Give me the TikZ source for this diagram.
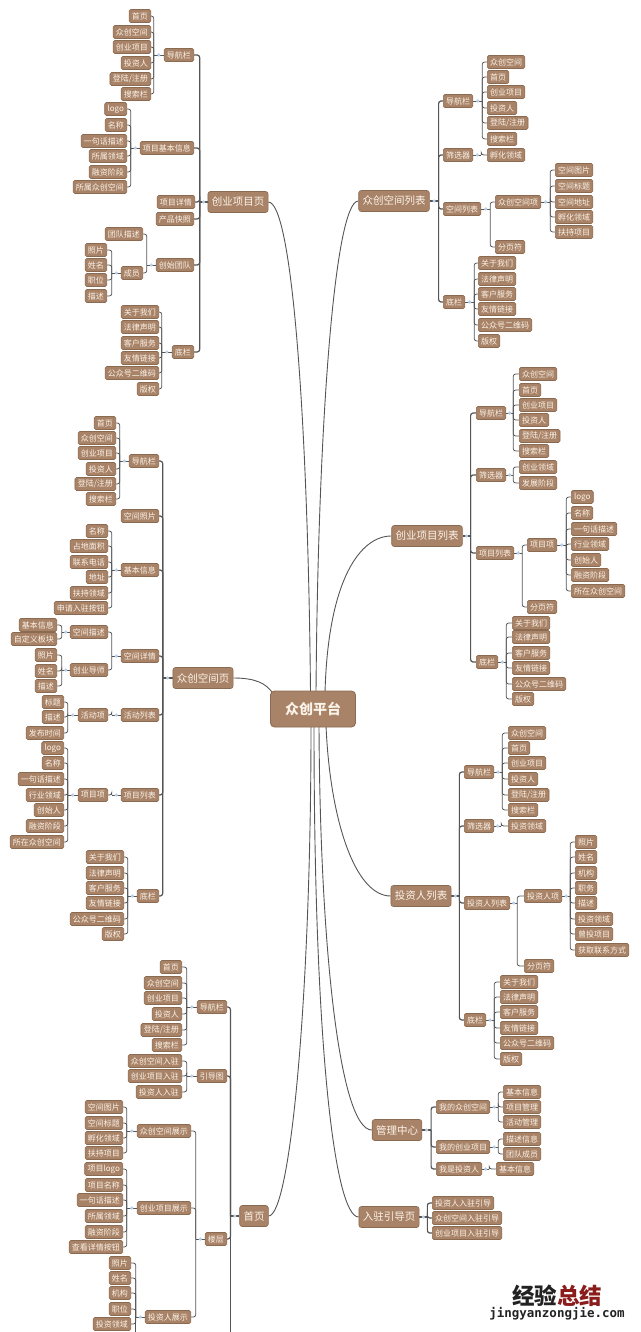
\documentclass[tikz,border=0pt]{standalone}
\usepackage{fontspec}
\newfontfamily\cjk{Noto Sans CJK SC}
\newfontfamily\wmmono{DejaVu Sans Mono}
\usetikzlibrary{calc,backgrounds}
\definecolor{boxf}{HTML}{A98367}
\definecolor{boxb}{HTML}{8A6A50}
\definecolor{boxt}{HTML}{FBF3EA}
\definecolor{linec}{HTML}{555555}
\definecolor{dotcol}{HTML}{BCD0E8}
\definecolor{wmred}{HTML}{8B1C1C}
\definecolor{wmblack}{HTML}{222222}
\tikzset{
  box/.style={draw=boxb,fill=boxf,text=boxt,line width=0.6pt,rounded corners=1.6pt,
    font=\cjk\fontsize{8}{9}\selectfont,inner xsep=2.8pt,inner ysep=0pt,minimum height=13pt},
  pagebox/.style={box,font=\cjk\fontsize{10.5}{12}\selectfont,inner xsep=3.8pt,minimum height=21pt,rounded corners=2.5pt},
  rootbox/.style={box,font=\cjk\bfseries\fontsize{14}{16}\selectfont,inner xsep=14pt,minimum height=36pt,
    minimum width=85pt,rounded corners=4pt,line width=0.8pt},
  conn/.style={draw=linec,line width=0.8pt},
  mainconn/.style={line width=1.2pt},
  rootconn/.style={draw=linec,line width=0.9pt},
  dotc/.style={fill=dotcol}
}
\newcommand\leafL[4]{\node[box,anchor=east] (#1) at (#2,#3) {#4};}
\newcommand\leafR[4]{\node[box,anchor=west] (#1) at (#2,#3) {#4};}
\newcommand\brR[4][]{%
  \draw[conn,#1] (#2.east) -- ++(#3,0) coordinate (#2-j);
  \foreach \kid in {#4}{\draw[conn,#1,rounded corners=2.5pt] (#2-j) |- (\kid.west);}
  \fill[dotc] ($(#2.east)!0.5!(#2-j)$) circle (1.8pt);
}
\newcommand\brL[4][]{%
  \draw[conn,#1] (#2.west) -- ++(-#3,0) coordinate (#2-j);
  \foreach \kid in {#4}{\draw[conn,#1,rounded corners=2.5pt] (#2-j) |- (\kid.east);}
  \fill[dotc] ($(#2.west)!0.5!(#2-j)$) circle (1.8pt);
}
\begin{document}
\begin{tikzpicture}[x=1pt,y=-1pt]
\useasboundingbox (0,0) rectangle (640,1332);
\clip (0,0) rectangle (640,1332);

% root
\node[rootbox] (root) at (313,709) {众创平台};

% ===== A: 创业项目页 =====
\node[pagebox] (A) at (238,202) {创业项目页};
\leafL{An}{194}{55}{导航栏}
\leafL{Ab}{194}{148}{项目基本信息}
\leafL{Ad}{195}{202}{项目详情}
\leafL{Ap}{194}{219}{产品快照}
\leafL{At}{194}{265}{创始团队}
\leafL{Af}{194}{352}{底栏}
\leafL{An1}{151}{16}{首页}
\leafL{An2}{151}{32}{众创空间}
\leafL{An3}{151}{47}{创业项目}
\leafL{An4}{151}{63}{投资人}
\leafL{An5}{151}{79}{登陆/注册}
\leafL{An6}{151}{94}{搜索栏}
\leafL{Ab1}{127}{109}{logo}
\leafL{Ab2}{127}{125}{名称}
\leafL{Ab3}{127}{141}{一句话描述}
\leafL{Ab4}{127}{156}{所属领域}
\leafL{Ab5}{127}{172}{融资阶段}
\leafL{Ab6}{127}{187}{所属众创空间}
\leafL{At1}{143}{234}{团队描述}
\leafL{At2}{143}{273}{成员}
\leafL{Am1}{107}{250}{照片}
\leafL{Am2}{107}{265}{姓名}
\leafL{Am3}{107}{280}{职位}
\leafL{Am4}{107}{296}{描述}
\leafL{Af1}{159}{312}{关于我们}
\leafL{Af2}{159}{327}{法律声明}
\leafL{Af3}{159}{343}{客户服务}
\leafL{Af4}{159}{358}{友情链接}
\leafL{Af5}{159}{373}{公众号二维码}
\leafL{Af6}{159}{389}{版权}

% ===== B: 众创空间列表 =====
\node[pagebox] (B) at (394,201) {众创空间列表};
\leafR{Bn}{443}{101}{导航栏}
\leafR{Bs}{443}{155}{筛选器}
\leafR{Bl}{443}{209}{空间列表}
\leafR{Bf}{443}{302}{底栏}
\leafR{Bn1}{487}{62}{众创空间}
\leafR{Bn2}{487}{77}{首页}
\leafR{Bn3}{487}{92}{创业项目}
\leafR{Bn4}{487}{108}{投资人}
\leafR{Bn5}{487}{123}{登陆/注册}
\leafR{Bn6}{487}{139}{搜索栏}
\leafR{Bs1}{487}{155}{孵化领域}
\leafR{Bi}{495}{202}{众创空间项}
\leafR{Bp}{495}{247}{分页符}
\leafR{Bi1}{555}{170}{空间图片}
\leafR{Bi2}{555}{186}{空间标题}
\leafR{Bi3}{555}{202}{空间地址}
\leafR{Bi4}{555}{217}{孵化领域}
\leafR{Bi5}{555}{232}{扶持项目}
\leafR{Bf1}{478}{263}{关于我们}
\leafR{Bf2}{478}{279}{法律声明}
\leafR{Bf3}{478}{294}{客户服务}
\leafR{Bf4}{478}{309}{友情链接}
\leafR{Bf5}{478}{325}{公众号二维码}
\leafR{Bf6}{478}{341}{版权}

% ===== C: 创业项目列表 =====
\node[pagebox] (C) at (427,536) {创业项目列表};
\leafR{Cn}{476}{413}{导航栏}
\leafR{Cs}{476}{475}{筛选器}
\leafR{Cl}{476}{553}{项目列表}
\leafR{Cf}{476}{662}{底栏}
\leafR{Cn1}{519}{374}{众创空间}
\leafR{Cn2}{519}{390}{首页}
\leafR{Cn3}{519}{405}{创业项目}
\leafR{Cn4}{519}{420}{投资人}
\leafR{Cn5}{519}{436}{登陆/注册}
\leafR{Cn6}{519}{451}{搜索栏}
\leafR{Cs1}{519}{467}{创业领域}
\leafR{Cs2}{519}{483}{发展阶段}
\leafR{Ci}{527}{545}{项目项}
\leafR{Cp}{527}{607}{分页符}
\leafR{Ci1}{571}{497}{logo}
\leafR{Ci2}{571}{513}{名称}
\leafR{Ci3}{571}{529}{一句话描述}
\leafR{Ci4}{571}{544}{行业领域}
\leafR{Ci5}{571}{560}{创始人}
\leafR{Ci6}{571}{575}{融资阶段}
\leafR{Ci7}{571}{591}{所在众创空间}
\leafR{Cf1}{512}{623}{关于我们}
\leafR{Cf2}{512}{637}{法律声明}
\leafR{Cf3}{512}{653}{客户服务}
\leafR{Cf4}{512}{668}{友情链接}
\leafR{Cf5}{512}{684}{公众号二维码}
\leafR{Cf6}{512}{699}{版权}

% ===== D: 众创空间页 =====
\node[pagebox] (D) at (203,678) {众创空间页};
\leafL{Dn}{159}{461}{导航栏}
\leafL{Dz}{159}{516}{空间照片}
\leafL{Db}{159}{570}{基本信息}
\leafL{Dd}{159}{656}{空间详情}
\leafL{Da}{159}{715}{活动列表}
\leafL{Dp}{159}{795}{项目列表}
\leafL{Df}{159}{896}{底栏}
\leafL{Dn1}{116}{423}{首页}
\leafL{Dn2}{116}{438}{众创空间}
\leafL{Dn3}{116}{453}{创业项目}
\leafL{Dn4}{116}{469}{投资人}
\leafL{Dn5}{116}{484}{登陆/注册}
\leafL{Dn6}{116}{499}{搜索栏}
\leafL{Db1}{108}{531}{名称}
\leafL{Db2}{108}{546}{占地面积}
\leafL{Db3}{108}{562}{联系电话}
\leafL{Db4}{108}{577}{地址}
\leafL{Db5}{108}{593}{扶持领域}
\leafL{Db6}{108}{608}{申请入驻按钮}
\leafL{Dm}{108}{632}{空间描述}
\leafL{Dt}{108}{670}{创业导师}
\leafL{Dm1}{57}{625}{基本信息}
\leafL{Dm2}{57}{639}{自定义板块}
\leafL{Dt1}{57}{655}{照片}
\leafL{Dt2}{57}{671}{姓名}
\leafL{Dt3}{57}{686}{描述}
\leafL{Dai}{108}{715}{活动项}
\leafL{Da1}{64}{702}{标题}
\leafL{Da2}{64}{717}{描述}
\leafL{Da3}{64}{733}{发布时间}
\leafL{Dpi}{108}{795}{项目项}
\leafL{Dp1}{64}{748}{logo}
\leafL{Dp2}{64}{763}{名称}
\leafL{Dp3}{64}{779}{一句话描述}
\leafL{Dp4}{64}{795}{行业领域}
\leafL{Dp5}{64}{810}{创始人}
\leafL{Dp6}{64}{826}{融资阶段}
\leafL{Dp7}{64}{842}{所在众创空间}
\leafL{Df1}{124}{857}{关于我们}
\leafL{Df2}{124}{873}{法律声明}
\leafL{Df3}{124}{888}{客户服务}
\leafL{Df4}{124}{903}{友情链接}
\leafL{Df5}{124}{919}{公众号二维码}
\leafL{Df6}{124}{934}{版权}

% ===== E: 投资人列表 =====
\node[pagebox] (E) at (421,896) {投资人列表};
\leafR{En}{464}{772}{导航栏}
\leafR{Es}{464}{826}{筛选器}
\leafR{El}{464}{903}{投资人列表}
\leafR{Ef}{464}{1020}{底栏}
\leafR{En1}{508}{733}{众创空间}
\leafR{En2}{508}{748}{首页}
\leafR{En3}{508}{763}{创业项目}
\leafR{En4}{508}{779}{投资人}
\leafR{En5}{508}{795}{登陆/注册}
\leafR{En6}{508}{810}{搜索栏}
\leafR{Es1}{508}{826}{投资领域}
\leafR{Ei}{524}{896}{投资人项}
\leafR{Ep}{524}{966}{分页符}
\leafR{Ei1}{575}{842}{照片}
\leafR{Ei2}{575}{857}{姓名}
\leafR{Ei3}{575}{873}{机构}
\leafR{Ei4}{575}{888}{职务}
\leafR{Ei5}{575}{903}{描述}
\leafR{Ei6}{575}{919}{投资领域}
\leafR{Ei7}{575}{934}{曾投项目}
\leafR{Ei8}{575}{950}{获取联系方式}
\leafR{Ef1}{500}{982}{关于我们}
\leafR{Ef2}{500}{997}{法律声明}
\leafR{Ef3}{500}{1012}{客户服务}
\leafR{Ef4}{500}{1028}{友情链接}
\leafR{Ef5}{500}{1043}{公众号二维码}
\leafR{Ef6}{500}{1059}{版权}

% ===== F: 首页 =====
\node[pagebox] (F) at (254,1216) {首页};
\leafL{Fn}{227}{1007}{导航栏}
\leafL{Fg}{227}{1076}{引导图}
\leafL{Fl}{227}{1239}{楼层}
\leafL{Fn1}{182}{967}{首页}
\leafL{Fn2}{182}{983}{众创空间}
\leafL{Fn3}{182}{998}{创业项目}
\leafL{Fn4}{182}{1014}{投资人}
\leafL{Fn5}{182}{1030}{登陆/注册}
\leafL{Fn6}{182}{1045}{搜索栏}
\leafL{Fg1}{182}{1061}{众创空间入驻}
\leafL{Fg2}{182}{1076}{创业项目入驻}
\leafL{Fg3}{182}{1092}{投资人入驻}
\leafL{Fz}{191}{1131}{众创空间展示}
\leafL{Fc}{191}{1208}{创业项目展示}
\leafL{Fi}{191}{1317}{投资人展示}
\leafL{Fz1}{123}{1107}{空间图片}
\leafL{Fz2}{123}{1123}{空间标题}
\leafL{Fz3}{123}{1138}{孵化领域}
\leafL{Fz4}{123}{1153}{扶持项目}
\leafL{Fc1}{123}{1169}{项目logo}
\leafL{Fc2}{123}{1185}{项目名称}
\leafL{Fc3}{123}{1200}{一句话描述}
\leafL{Fc4}{123}{1216}{所属领域}
\leafL{Fc5}{123}{1232}{融资阶段}
\leafL{Fc6}{123}{1247}{查看详情按钮}
\leafL{Fi1}{131}{1263}{照片}
\leafL{Fi2}{131}{1278}{姓名}
\leafL{Fi3}{131}{1293}{机构}
\leafL{Fi4}{131}{1309}{职位}
\leafL{Fi5}{131}{1324}{投资领域}

% ===== G: 管理中心 =====
\node[pagebox] (G) at (397,1130) {管理中心};
\leafR{G1}{436}{1107}{我的众创空间}
\leafR{G2}{436}{1147}{我的创业项目}
\leafR{G3}{436}{1169}{我是投资人}
\leafR{G11}{503}{1092}{基本信息}
\leafR{G12}{503}{1107}{项目管理}
\leafR{G13}{503}{1122}{活动管理}
\leafR{G21}{503}{1139}{描述信息}
\leafR{G22}{503}{1154}{团队成员}
\leafR{G31}{496}{1169}{基本信息}

% ===== H: 入驻引导页 =====
\node[pagebox] (H) at (389,1217) {入驻引导页};
\leafR{H1}{432}{1203}{投资人入驻引导}
\leafR{H2}{432}{1218}{众创空间入驻引导}
\leafR{H3}{432}{1233}{创业项目入驻引导}

% watermark
\node[font=\cjk\bfseries\fontsize{22.5}{24}\selectfont,text=wmblack] (wm1) at (557,1296) {经验\textcolor{wmred}{总结}};
\node[font=\wmmono\bfseries\fontsize{12.5}{14}\selectfont,text=wmblack] (wm2) at (557,1314) {jingyanzongjie.com};

\begin{pgfonlayer}{background}
% root curves
\draw[rootconn] (A.east) .. controls (292,202) and (308,420) .. ($(root.north)+(-2.5,2)$);
\draw[rootconn] (B.west) .. controls (335,201) and (318,420) .. ($(root.north)+(3,2)$);
\draw[rootconn] (C.west) .. controls (360,536) and (328,580) .. ($(root.north)+(12,2)$);
\draw[rootconn] (D.east) .. controls (255,678) and (266,683) .. ($(root.north west)+(3,3)$);
\draw[rootconn] (E.west) .. controls (355,896) and (330,820) .. ($(root.south)+(13,-2)$);
\draw[rootconn] (G.west) .. controls (340,1130) and (320,950) .. ($(root.south)+(6,-2)$);
\draw[rootconn] (H.west) .. controls (335,1217) and (314,1050) .. ($(root.south)+(1,-2)$);
\draw[rootconn] (F.east) .. controls (290,1216) and (311,1000) .. ($(root.south)+(-2,-2)$);

% A
\brL[mainconn]{A}{8}{An,Ab,Ad,Ap,At,Af}
\brL{An}{10}{An1,An2,An3,An4,An5,An6}
\brL{Ab}{9}{Ab1,Ab2,Ab3,Ab4,Ab5,Ab6}
\brL{At}{9}{At1,At2}
\brL{At2}{9}{Am1,Am2,Am3,Am4}
\brL{Af}{10}{Af1,Af2,Af3,Af4,Af5,Af6}
% B
\brR[mainconn]{B}{9}{Bn,Bs,Bl,Bf}
\brR{Bn}{9}{Bn1,Bn2,Bn3,Bn4,Bn5,Bn6}
\brR{Bs}{8}{Bs1}
\brR{Bl}{9}{Bi,Bp}
\brR{Bi}{9}{Bi1,Bi2,Bi3,Bi4,Bi5}
\brR{Bf}{9}{Bf1,Bf2,Bf3,Bf4,Bf5,Bf6}
% C
\brR[mainconn]{C}{8}{Cn,Cs,Cl,Cf}
\brR{Cn}{7}{Cn1,Cn2,Cn3,Cn4,Cn5,Cn6}
\brR{Cs}{7}{Cs1,Cs2}
\brR{Cl}{8}{Ci,Cp}
\brR{Ci}{9}{Ci1,Ci2,Ci3,Ci4,Ci5,Ci6,Ci7}
\brR{Cf}{8}{Cf1,Cf2,Cf3,Cf4,Cf5,Cf6}
% D
\brL[mainconn]{D}{10}{Dn,Dz,Db,Dd,Da,Dp,Df}
\brL{Dn}{9}{Dn1,Dn2,Dn3,Dn4,Dn5,Dn6}
\brL{Db}{9}{Db1,Db2,Db3,Db4,Db5,Db6}
\brL{Dd}{9}{Dm,Dt}
\brL{Dm}{8}{Dm1,Dm2}
\brL{Dt}{8}{Dt1,Dt2,Dt3}
\brL{Da}{9}{Dai}
\brL{Dai}{10}{Da1,Da2,Da3}
\brL{Dp}{9}{Dpi}
\brL{Dpi}{10}{Dp1,Dp2,Dp3,Dp4,Dp5,Dp6,Dp7}
\brL{Df}{9}{Df1,Df2,Df3,Df4,Df5,Df6}
% E
\brR[mainconn]{E}{8}{En,Es,El,Ef}
\brR{En}{8}{En1,En2,En3,En4,En5,En6}
\brR{Es}{7}{Es1}
\brR{El}{7}{Ei,Ep}
\brR{Ei}{8}{Ei1,Ei2,Ei3,Ei4,Ei5,Ei6,Ei7,Ei8}
\brR{Ef}{8}{Ef1,Ef2,Ef3,Ef4,Ef5,Ef6}
% F
\brL[mainconn]{F}{9}{Fn,Fg,Fl}
\draw[conn,mainconn] (F-j) -- ++(0,150);
\brL{Fn}{10}{Fn1,Fn2,Fn3,Fn4,Fn5,Fn6}
\brL{Fg}{10}{Fg1,Fg2,Fg3}
\brL{Fl}{9}{Fz,Fc,Fi}
\brL{Fz}{10}{Fz1,Fz2,Fz3,Fz4}
\brL{Fc}{10}{Fc1,Fc2,Fc3,Fc4,Fc5,Fc6}
\brL{Fi}{9}{Fi1,Fi2,Fi3,Fi4,Fi5}
\draw[conn] (Fi-j) -- ++(0,60);
% G
\brR[mainconn]{G}{9}{G1,G2,G3}
\brR{G1}{8}{G11,G12,G13}
\brR{G2}{8}{G21,G22}
\brR{G3}{7}{G31}
% H
\brR[mainconn]{H}{8}{H1,H2,H3}
\end{pgfonlayer}
\end{tikzpicture}
\end{document}
